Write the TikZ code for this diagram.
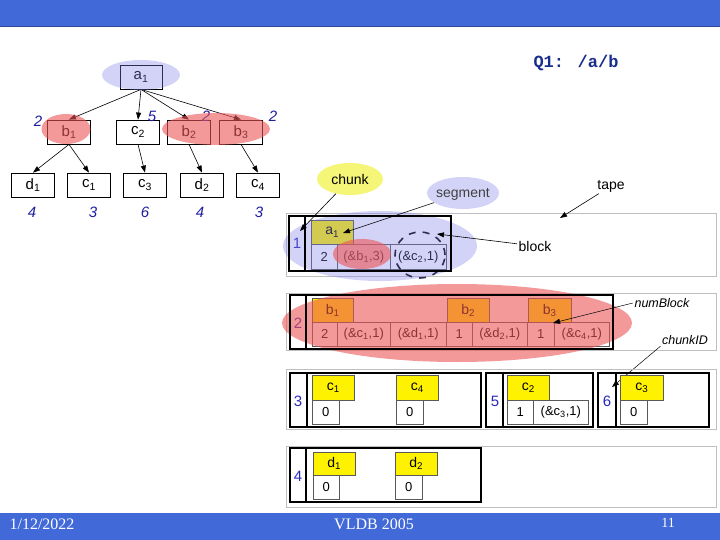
\documentclass[tikz,border=0pt]{standalone}
\usepackage{fontspec}
\setmainfont{Liberation Sans}
\newfontfamily\monof{Liberation Mono}
\newfontfamily\seriff{Liberation Serif}
\usetikzlibrary{arrows.meta,shapes.geometric}
\newcommand\sbs[1]{\textsubscript{#1}}
\definecolor{topblue}{RGB}{65,105,216}
\definecolor{lav}{RGB}{130,130,235}
\definecolor{redov}{RGB}{235,85,85}
\definecolor{chunky}{RGB}{245,245,120}
\definecolor{wblue}{RGB}{30,30,160}
\definecolor{idblue}{RGB}{40,40,190}
\definecolor{qblue}{RGB}{25,45,140}
\definecolor{ringc}{RGB}{45,45,80}
\tikzset{
  tbox/.style={draw=black, line width=0.8pt, fill=white, minimum width=43pt, minimum height=24pt, inner sep=0pt, font=\fontsize{15}{17}\selectfont},
  wt/.style={font=\fontsize{15}{17}\selectfont\itshape, text=wblue},
  tarrow/.style={-{Triangle[length=7pt,width=5pt]}, line width=0.6pt},
  tape/.style={draw=black!25, line width=0.9pt},
  blk/.style={draw=black, line width=1.8pt},
  tag/.style={draw=black!65, fill=yellow, line width=.6pt, minimum height=24pt, inner sep=0pt, anchor=north west, font=\fontsize{14}{16}\selectfont},
  cell/.style={draw=black!65, fill=white, line width=.6pt, minimum height=24pt, inner sep=0pt, anchor=north west, font=\fontsize{13}{15}\selectfont},
  cid/.style={text=idblue, font=\fontsize{15}{17}\selectfont},
  lavell/.style={ellipse, inner sep=0pt, fill=lav, fill opacity=.35},
  redell/.style={ellipse, inner sep=0pt, fill=redov, fill opacity=.6},
  lbl/.style={font=\fontsize{14}{16}\selectfont, inner sep=1.5pt},
  ilbl/.style={font=\fontsize{12.5}{14}\selectfont\itshape, inner sep=1.5pt},
  foot/.style={text=white, font=\seriff\fontsize{16}{18}\selectfont},
}
\begin{document}
\begin{tikzpicture}[x=1pt,y=-1pt]
\useasboundingbox (0,0) rectangle (720,540);
% bars
\fill[topblue] (0,0) rectangle (720,26);
\draw[topblue!70!black, line width=0.8pt] (0,26) -- (720,26);
\fill[topblue] (0,513) rectangle (720,540);
\node[foot] (fdate) at (42,524) {1/12/2022};
\node[foot] (fconf) at (374,524) {VLDB 2005};
\node[foot, font=\seriff\fontsize{14}{16}\selectfont] (fpage) at (668,523) {11};
% title
\node[text=qblue, font=\monof\bfseries\fontsize{17}{19}\selectfont] (q1) at (576,63) {Q1: /a/b};

% ---------- tree ----------
\node[tbox, minimum width=42pt] (a1) at (141,77) {a\sbs{1}};
\node[tbox] (b1) at (69,132) {b\sbs{1}};
\node[tbox] (c2) at (138,132) {c\sbs{2}};
\node[tbox] (b2) at (189,132) {b\sbs{2}};
\node[tbox] (b3) at (241,132) {b\sbs{3}};
\node[tbox] (d1) at (33,185) {d\sbs{1}};
\node[tbox] (c1) at (89,185) {c\sbs{1}};
\node[tbox] (c3) at (145,185) {c\sbs{3}};
\node[tbox] (d2) at (202,185) {d\sbs{2}};
\node[tbox] (c4) at (258,185) {c\sbs{4}};
\draw[tarrow] (a1.south) -- (b1.north);
\draw[tarrow] (a1.south) -- (c2.north);
\draw[tarrow] (a1.south) -- (b2.north);
\draw[tarrow] (a1.south) -- (b3.north);
\draw[tarrow] (b1.south) -- (d1.north);
\draw[tarrow] (b1.south) -- (c1.north);
\draw[tarrow] (c2.south) -- (c3.north);
\draw[tarrow] (b2.south) -- (d2.north);
\draw[tarrow] (b3.south) -- (c4.north);
\node[wt] (w1) at (38,121) {2};
\node[wt] (w2) at (152,116) {5};
\node[wt] (w3) at (206,116) {2};
\node[wt] (w4) at (273,116) {2};
\node[wt] (w5) at (32,212) {4};
\node[wt] (w6) at (93,212) {3};
\node[wt] (w7) at (145,212) {6};
\node[wt] (w8) at (200,212) {4};
\node[wt] (w9) at (259,212) {3};
\node[lavell, minimum width=78pt, minimum height=30pt] (ea1) at (141,75) {};
\node[redell, minimum width=49pt, minimum height=30pt] (eb1) at (66,129) {};
\node[redell, minimum width=108pt, minimum height=32pt] (eb23) at (216,129) {};

% ---------- row 1 ----------
\draw[tape] (286,213) rectangle (716,276);
\node[tag, minimum width=42pt] (ta1) at (311,220) {a\sbs{1}};
\node[cell, minimum width=26pt, minimum height=25pt] (r1n) at (311,244) {2};
\node[cell, minimum width=53pt, minimum height=25pt] (r1b) at (337,244) {(\&b\sbs{1},3)};
\node[cell, minimum width=56pt, minimum height=25pt] (r1c) at (390,244) {(\&c\sbs{2},1)};
\node[cid] (id1) at (297,243) {1};
\node[lavell, minimum width=194pt, minimum height=70pt] (segbig) at (380,246) {};
\node[redell, minimum width=58pt, minimum height=30pt] (eb1r) at (362,254) {};
\node[ellipse, draw=ringc, line width=1.6pt, dash pattern=on 7pt off 7pt, minimum width=50pt, minimum height=46pt, inner sep=0pt] (ring) at (420,255) {};
\draw[blk] (289,216) rectangle (451,271);
\draw[blk] (305,216) -- (305,271);

\node[ellipse, fill=chunky, minimum width=66pt, minimum height=32pt, inner sep=0pt, lbl] (chunkE) at (350,179) {chunk};
\node[lavell, minimum width=72pt, minimum height=32pt] (segE) at (463,193) {};
\node[lbl, text=black!75] (segT) at (463,194) {segment};
\node[lbl] (tapeL) at (611,186) {tape};
\node[lbl] (blockL) at (535,246) {block};
\coordinate (pchunk) at (300,231);
\coordinate (pseg) at (343,233);
\coordinate (ptape) at (560,218);
\coordinate (pblock) at (437,234);
\draw[tarrow] (chunkE) -- (pchunk);
\draw[tarrow] (segE) -- (pseg);
\draw[tarrow] (tapeL) -- (ptape);
\draw[tarrow] (blockL) -- (pblock);

% ---------- row 2 ----------
\draw[tape] (286,293) rectangle (716,350);
\node[tag, minimum width=41pt] (tb1) at (312,298) {b\sbs{1}};
\node[tag, minimum width=42pt] (tb2) at (447,298) {b\sbs{2}};
\node[tag, minimum width=43pt] (tb3) at (528,298) {b\sbs{3}};
\node[cell, minimum width=25pt] (r2a) at (312,322) {2};
\node[cell, minimum width=53pt] (r2b) at (337,322) {(\&c\sbs{1},1)};
\node[cell, minimum width=56pt] (r2c) at (390,322) {(\&d\sbs{1},1)};
\node[cell, minimum width=26pt] (r2d) at (446,322) {1};
\node[cell, minimum width=55pt] (r2e) at (472,322) {(\&d\sbs{2},1)};
\node[cell, minimum width=27pt] (r2f) at (527,322) {1};
\node[cell, minimum width=55pt] (r2g) at (554,322) {(\&c\sbs{4},1)};
\node[cid] (id2) at (298,323) {2};
\node[redell, minimum width=350pt, minimum height=78pt] (ered) at (457,323) {};
\draw[blk] (290,295) rectangle (613,349);
\draw[blk] (306,295) -- (306,349);
\node[ilbl] (numL) at (662,303) {numBlock};
\coordinate (pnum) at (553,323);
\draw[tarrow, line width=0.5pt] (numL.west) -- (pnum);
\node[ilbl] (cidL) at (685,340) {chunkID};
\coordinate (pcid) at (612,387);
\draw[tarrow, line width=0.5pt] (cidL.south west) -- (pcid);

% ---------- row 3 ----------
\draw[tape] (286,369) rectangle (716,429);
\node[tag, minimum width=42pt, minimum height=25pt] (tc1) at (312,375) {c\sbs{1}};
\node[tag, minimum width=42pt, minimum height=25pt] (tc4) at (396,375) {c\sbs{4}};
\node[cell, minimum width=27pt] (r3a) at (312,400) {0};
\node[cell, minimum width=27pt] (r3b) at (396,400) {0};
\draw[blk] (290,373) rectangle (481,427);
\draw[blk] (307,373) -- (307,427);
\node[cid] (id3) at (298,401) {3};
\node[tag, minimum width=42pt, minimum height=25pt] (tc2) at (507,375) {c\sbs{2}};
\node[cell, minimum width=26pt] (r3c) at (507,400) {1};
\node[cell, minimum width=55pt] (r3d) at (533,400) {(\&c\sbs{3},1)};
\draw[blk] (486,373) rectangle (593,427);
\draw[blk] (503,373) -- (503,427);
\node[cid] (id5) at (495,401) {5};
\node[tag, minimum width=43pt, minimum height=25pt] (tc3) at (620,375) {c\sbs{3}};
\node[cell, minimum width=27pt] (r3e) at (620,400) {0};
\draw[blk] (598,373) rectangle (709,427);
\draw[blk] (616,373) -- (616,427);
\node[cid] (id6) at (607,401) {6};

% ---------- row 4 ----------
\draw[tape] (286,446) rectangle (716,507);
\node[tag, minimum width=42pt, minimum height=23pt] (td1) at (313,452) {d\sbs{1}};
\node[tag, minimum width=42pt, minimum height=23pt] (td2) at (395,452) {d\sbs{2}};
\node[cell, minimum width=26pt] (r4a) at (313,475) {0};
\node[cell, minimum width=27pt] (r4b) at (395,475) {0};
\draw[blk] (290,448) rectangle (481,502);
\draw[blk] (306,448) -- (306,502);
\node[cid] (id4) at (298,476) {4};
\end{tikzpicture}
\end{document}
